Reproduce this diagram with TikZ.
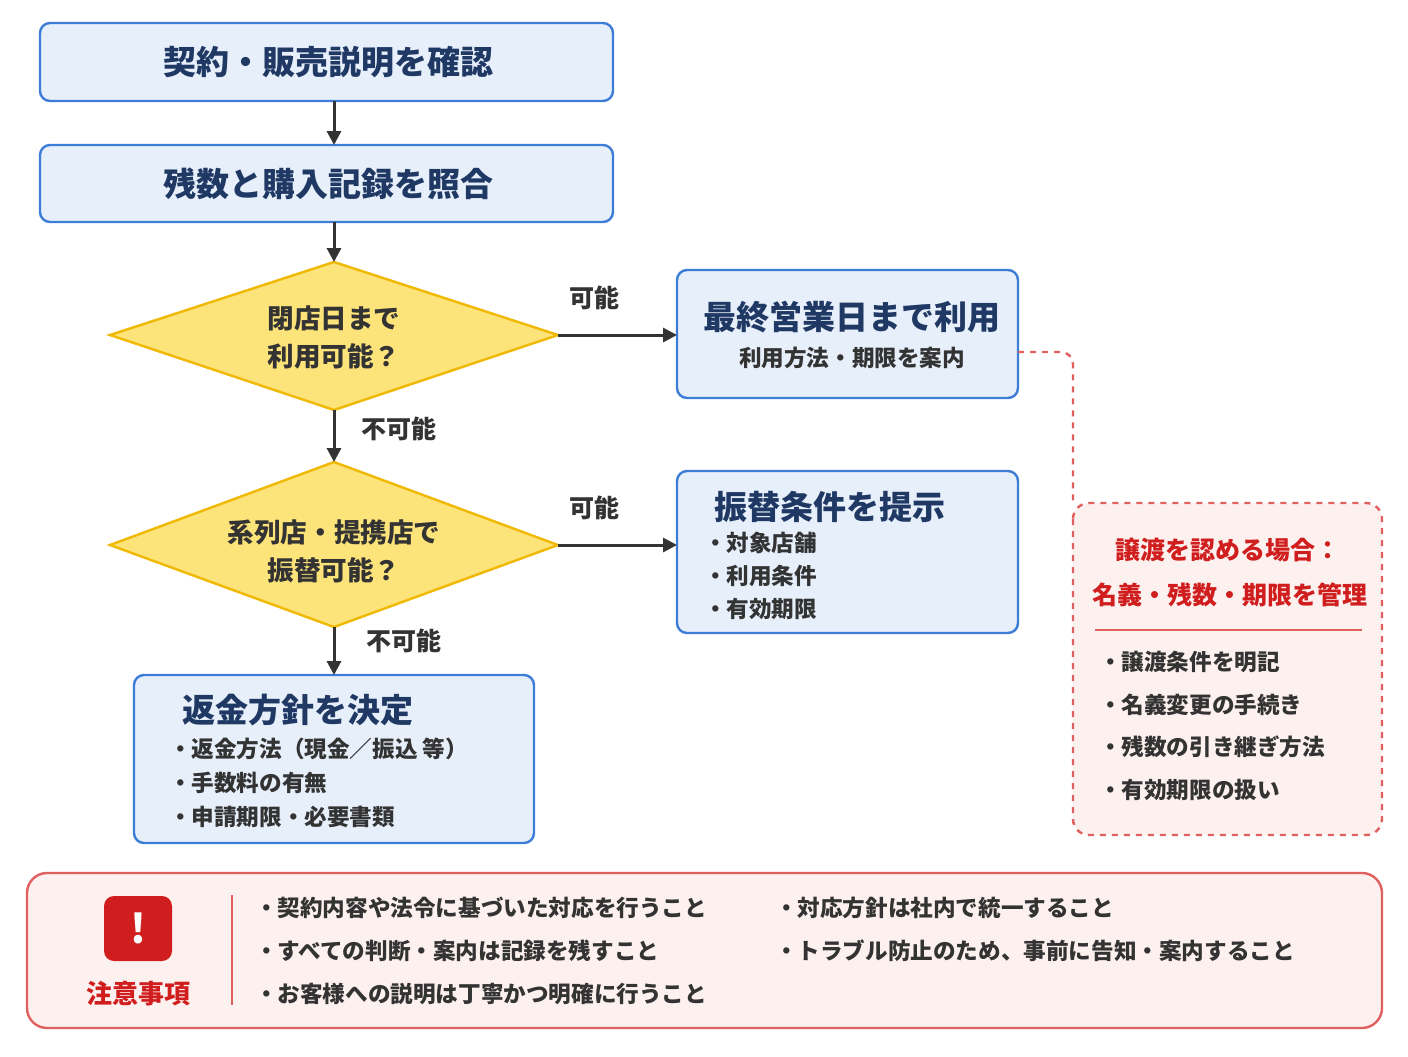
\documentclass[tikz,border=0pt]{standalone}
\usepackage{fontspec}
\setmainfont{Noto Sans CJK JP}
\usetikzlibrary{shapes.geometric,arrows.meta}
\definecolor{bfill}{HTML}{E6EFFA}
\definecolor{bline}{HTML}{3D7DD8}
\definecolor{navy}{HTML}{1F3864}
\definecolor{yfill}{HTML}{FCE37A}
\definecolor{yline}{HTML}{F0B800}
\definecolor{rline}{HTML}{E06060}
\definecolor{rfill}{HTML}{FDF1EF}
\definecolor{rtext}{HTML}{D01E1E}
\definecolor{dark}{HTML}{333333}
\begin{document}
\begin{tikzpicture}[x=0.5pt,y=-0.5pt,
 box/.style={draw=bline,fill=bfill,line width=1.2pt,rounded corners=5pt},
 dia/.style={draw=yline,fill=yfill,line width=1.2pt},
 ttl/.style={font=\bfseries\fontsize{16.5}{19}\selectfont,text=navy},
 txt/.style={font=\bfseries\fontsize{11.3}{13}\selectfont,text=dark,anchor=west},
 lab/.style={font=\bfseries\fontsize{12.5}{14}\selectfont,text=dark},
 arr/.style={-{Triangle[length=7pt,width=7pt]},line width=1.5pt,draw=dark}]
\useasboundingbox (0,0) rectangle (1408,1056);
\fill[white] (0,0) rectangle (1408,1056);
% boxes
\draw[box] (40,23) rectangle (613,101);
\node[ttl] (b1) at (328,62) {契約・販売説明を確認};
\draw[box] (40,145) rectangle (613,222);
\node[ttl] (b2) at (328,184) {残数と購入記録を照合};
\coordinate (b1b) at (334,101); \coordinate (b2t) at (334,145);
\coordinate (b2b) at (334,222);
\draw[dia] (110,335) -- (334,262) -- (558,335) -- (334,410) -- cycle;
\node[font=\bfseries\fontsize{13.3}{19}\selectfont,text=dark,align=center] (d1) at (334,337) {閉店日まで\\利用可能？};
\coordinate (d1t) at (334,262); \coordinate (d1r) at (558,335); \coordinate (d1b) at (334,410);
\draw[dia] (110,545) -- (334,462) -- (558,545) -- (334,627) -- cycle;
\node[font=\bfseries\fontsize{13.3}{19}\selectfont,text=dark,align=center] (d2) at (334,551) {系列店・提携店で\\振替可能？};
\coordinate (d2t) at (334,462); \coordinate (d2r) at (558,545); \coordinate (d2b) at (334,627);
\draw[box] (677,270) rectangle (1018,398);
\node[ttl] (b3) at (852,317) {最終営業日まで利用};
\node[font=\bfseries\fontsize{11.3}{13}\selectfont,text=dark] (b3s) at (852,358) {利用方法・期限を案内};
\coordinate (b3l) at (677,335); \coordinate (b3r) at (1018,352);
\draw[box] (677,471) rectangle (1018,633);
\node[ttl] (b4) at (830,507) {振替条件を提示};
\node[txt] (b4a) at (697,543) {・対象店舗};
\node[txt] (b4b) at (697,576) {・利用条件};
\node[txt] (b4c) at (697,609) {・有効期限};
\coordinate (b4l) at (677,545);
\draw[box] (134,675) rectangle (534,843);
\node[ttl] (b5) at (298,710) {返金方針を決定};
\node[txt] (b5a) at (162,749) {・返金方法（現金／振込 等）};
\node[txt] (b5b) at (162,783) {・手数料の有無};
\node[txt] (b5c) at (162,817) {・申請期限・必要書類};
\coordinate (b5t) at (334,675);
% arrows
\draw[arr] (b1b) -- (b2t);
\draw[arr] (b2b) -- (d1t);
\draw[arr] (d1r) -- (b3l);
\draw[arr] (d1b) -- (d2t);
\draw[arr] (d2r) -- (b4l);
\draw[arr] (d2b) -- (b5t);
\node[lab] (l1) at (594,298) {可能};
\node[lab] (l2) at (399,429) {不可能};
\node[lab] (l3) at (594,508) {可能};
\node[lab] (l4) at (404,641) {不可能};
% red dashed box
\draw[draw=rline,fill=rfill,line width=1.2pt,dashed,rounded corners=8pt] (1073,503) rectangle (1382,835);
\coordinate (rt) at (1073,503);
\draw[draw=rline,line width=1.2pt,dashed,rounded corners=6pt] (b3r) -| (rt);
\node[font=\bfseries\fontsize{12.5}{14}\selectfont,text=rtext] (r1) at (1228,550) {譲渡を認める場合：};
\node[font=\bfseries\fontsize{12.5}{14}\selectfont,text=rtext] (r2) at (1230,595) {名義・残数・期限を管理};
\draw[rline,line width=0.8pt] (1095,630) -- (1362,630);
\node[txt] (ra) at (1092,662) {・譲渡条件を明記};
\node[txt] (rb) at (1092,705) {・名義変更の手続き};
\node[txt] (rc) at (1092,747) {・残数の引き継ぎ方法};
\node[txt] (rd) at (1092,790) {・有効期限の扱い};
% bottom
\draw[draw=rline,fill=rfill,line width=1.2pt,rounded corners=10pt] (27,873) rectangle (1382,1028);
\fill[rtext,rounded corners=5pt] (104,896) rectangle (172,961);
\node[text=white,font=\bfseries\fontsize{20}{22}\selectfont] (ex) at (138,928) {!};
\node[font=\bfseries\fontsize{13}{14}\selectfont,text=rtext] (cz) at (138,994) {注意事項};
\draw[rline,line width=0.8pt] (232,895) -- (232,1005);
\node[txt] (n1) at (248,908) {・契約内容や法令に基づいた対応を行うこと};
\node[txt] (n2) at (248,951) {・すべての判断・案内は記録を残すこと};
\node[txt] (n3) at (248,994) {・お客様への説明は丁寧かつ明確に行うこと};
\node[txt] (n4) at (768,908) {・対応方針は社内で統一すること};
\node[txt] (n5) at (768,951) {・トラブル防止のため、事前に告知・案内すること};
\end{tikzpicture}
\end{document}
